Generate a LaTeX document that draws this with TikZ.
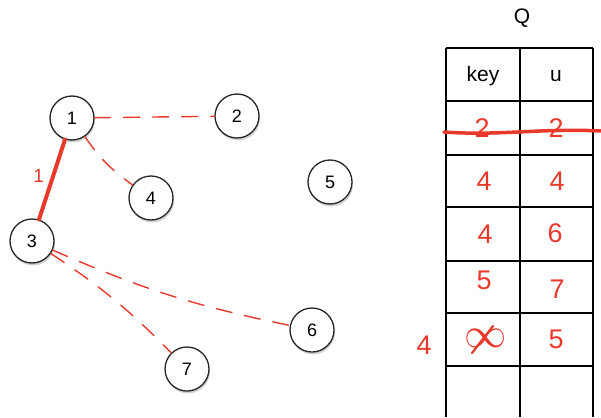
\documentclass[tikz,border=0pt]{standalone}
\usepackage{fontspec}
\setmainfont{Liberation Sans}
\usetikzlibrary{shadows}
\definecolor{pen}{HTML}{E8392B}

\begin{document}
\begin{tikzpicture}[x=1pt, y=-1pt,
    vertex/.style={circle, draw=black!85, line width=1.3pt, fill=white, minimum size=44pt, inner sep=0pt,
      font=\fontsize{18}{18}\selectfont,
      drop shadow={shadow xshift=1pt, shadow yshift=-2.5pt, opacity=0.35}},
    hand/.style={text=pen, font=\fontsize{27}{27}\selectfont},
    candidate/.style={draw=pen, line width=1.4pt, line cap=round, dash pattern=on 16pt off 13pt},
    chosen/.style={draw=pen, line width=4pt, line cap=round},
    cell/.style={font=\fontsize{21}{21}\selectfont}]
      \useasboundingbox (0,0) rectangle (601,417);

      % Nodes
      \node[vertex] at (72, 118) (n1) {1};
      \node[vertex] at (237, 116) (n2) {2};
      \node[vertex] at (32, 241) (n3) {3};
      \node[vertex] at (151, 198) (n4) {4};
      \node[vertex] at (330, 182) (n5) {5};
      \node[vertex] at (312, 330) (n6) {6};
      \node[vertex] at (187, 369) (n7) {7};

      % Edges
      \draw[chosen] (n1) -- node[left=4pt, hand, font=\fontsize{19}{19}\selectfont, pos=0.45] {1} (n3);
      \draw[candidate] (n1) -- (n2);
      \draw[candidate] (n1) to[bend right=10] (n4);
      \draw[candidate] (n3) to[bend right=6] (n6);
      \draw[candidate] (n3) to[bend left=6] (n7);

      % Queue
      \node[cell] at (522, 18) (q) {Q};
      \foreach \y in {48, 101, 155, 207, 261, 313, 366}
        \draw[line width=1.2pt] (446, \y) -- (593, \y);
      \foreach \x in {446, 520, 593}
        \draw[line width=1.2pt] (\x, 48) -- (\x, 417);
      \node[cell] at (483, 76) (hkey) {key};
      \node[cell] at (556, 76) (hu) {u};

      \node[hand] at (482, 128) (k1) {2};
      \node[hand] at (556, 128) (u1) {2};
      \draw[pen, line width=3.5pt, line cap=round] (444, 132) .. controls (500, 136) and (540, 128) .. (601, 131);
      \node[hand] at (484, 181) (k2) {4};
      \node[hand] at (557, 181) (u2) {4};
      \node[hand] at (485, 234) (k3) {4};
      \node[hand] at (555, 233) (u3) {6};
      \node[hand] at (484, 280) (k4) {5};
      \node[hand] at (557, 289) (u4) {7};
      \node[hand] at (486, 338) (k5) {\scalebox{1.7}{$\infty$}};
      \draw[pen, line width=2.2pt, line cap=round] (472, 353) -- (493, 326);
      \node[hand] at (556, 339) (u5) {5};
      \node[hand] at (424, 345) (knew) {4};
\end{tikzpicture}
\end{document}
